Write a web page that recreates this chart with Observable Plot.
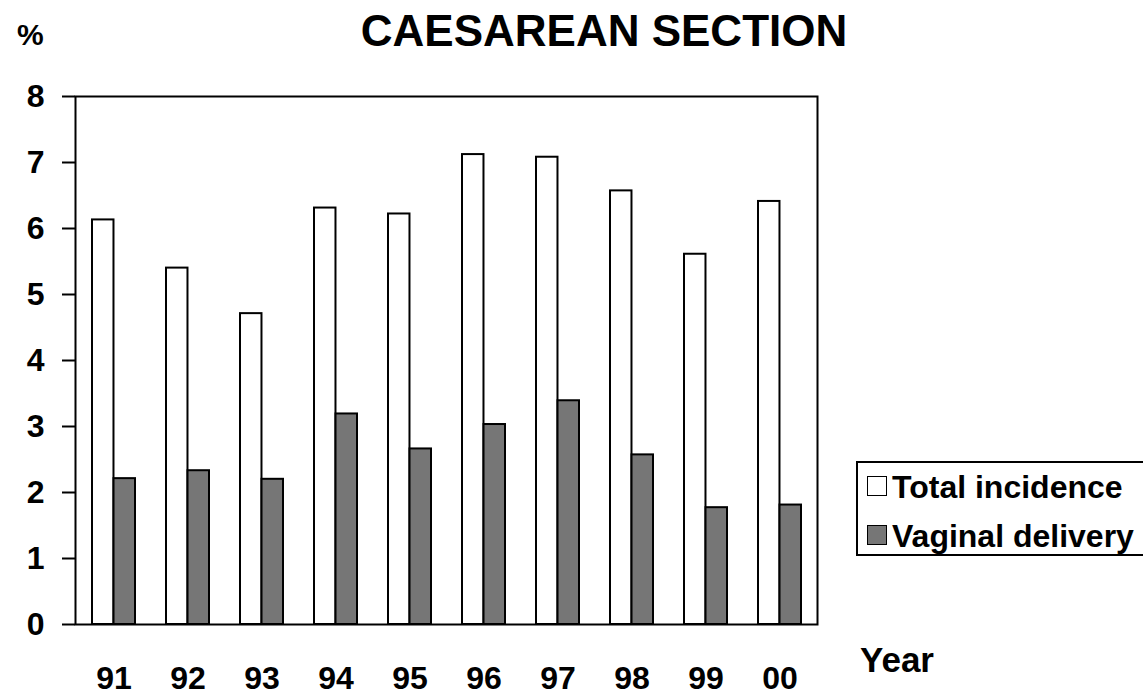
<!DOCTYPE html>
<html>
<head>
<meta charset="utf-8">
<script src="https://cdn.jsdelivr.net/npm/d3@7"></script>
<script src="https://cdn.jsdelivr.net/npm/@observablehq/plot@0.6"></script>
<style>
  html, body { margin: 0; padding: 0; background: #fff; overflow: hidden; }
  body { width: 1143px; height: 695px; position: relative; font-family: "Liberation Sans", Arial, Helvetica, sans-serif; font-weight: bold; color: #000; }
  #chart { position: absolute; left: 0; top: 0; }
  .abs { position: absolute; white-space: nowrap; }
  #title { left: 0; width: 1208px; text-align: center; top: 5px; font-size: 44px; line-height: 52px; }
  #ylab { left: 17px; top: 18px; font-size: 30px; line-height: 34px; }
  #xlab { left: 860px; top: 640px; font-size: 35px; line-height: 40px; }
  #legend { left: 856px; top: 461px; width: 320px; height: 95px; border: 2px solid #000; box-sizing: border-box; }
  .sw { position: absolute; width: 20px; height: 20px; box-sizing: border-box; border: 2px solid #000; }
  .lt { position: absolute; font-size: 32px; line-height: 36px; }
</style>
</head>
<body>
<div id="chart"></div>
<div id="title" class="abs">CAESAREAN SECTION</div>
<div id="ylab" class="abs">%</div>
<div id="xlab" class="abs">Year</div>
<div id="legend" class="abs"></div>
<script>
// ---- data ----
const years = ["91", "92", "93", "94", "95", "96", "97", "98", "99", "00"];
const totalIncidence = [6.13, 5.40, 4.71, 6.31, 6.22, 7.12, 7.08, 6.57, 5.61, 6.41];
const vaginalDelivery = [2.21, 2.33, 2.20, 3.19, 2.66, 3.03, 3.39, 2.57, 1.77, 1.81];
const seriesNames = ["Total incidence", "Vaginal delivery"];
const seriesColors = ["#ffffff", "#767676"];
const yTicks = [0, 1, 2, 3, 4, 5, 6, 7, 8];

const totalRows = years.map((y, i) => ({year: y, value: totalIncidence[i]}));
const vaginalRows = years.map((y, i) => ({year: y, value: vaginalDelivery[i]}));

const W = 1143, H = 695;
const mL = 75, mR = 326, mT = 96, mB = 71;
const pInner = 0.42, pOuter = 0.21;
const step = (W - mL - mR) / (years.length - pInner + 2 * pOuter);
const bw = step * (1 - pInner);

const chart = Plot.plot({
  width: W,
  height: H,
  marginLeft: mL,
  marginRight: mR,
  marginTop: mT,
  marginBottom: mB,
  style: {background: "#fff", color: "#000", fontFamily: "'Liberation Sans', Arial, sans-serif", fontWeight: "bold"},
  x: {type: "band", domain: years, paddingInner: pInner, paddingOuter: pOuter, axis: null},
  y: {domain: [0, 8], axis: null},
  marks: [
    Plot.barY(totalRows, {x: "year", y: "value", fill: seriesColors[0], stroke: "#000", strokeWidth: 2, insetRight: bw / 2}),
    Plot.barY(vaginalRows, {x: "year", y: "value", fill: seriesColors[1], stroke: "#000", strokeWidth: 2, insetLeft: bw / 2}),
    Plot.frame({stroke: "#000", strokeWidth: 2}),
    Plot.axisY({ticks: yTicks, tickSize: 13, tickPadding: 18, tickFormat: d => String(d), fontSize: 32, fontWeight: "bold", label: null, strokeWidth: 2}),
    Plot.axisX({tickSize: 0, tickPadding: 42, fontSize: 32, fontWeight: "bold", label: null})
  ]
});
document.getElementById("chart").appendChild(chart);

// legend built from the series arrays
const legend = document.getElementById("legend");
seriesNames.forEach((name, i) => {
  const sw = document.createElement("div");
  sw.className = "sw";
  sw.style.left = "9px";
  sw.style.top = (13 + i * 49) + "px";
  sw.style.background = seriesColors[i];
  sw.style.borderWidth = i === 0 ? "1.5px" : "1px";
  legend.appendChild(sw);
  const t = document.createElement("div");
  t.className = "lt";
  t.style.left = "34px";
  t.style.top = (6 + i * 49) + "px";
  t.textContent = name;
  legend.appendChild(t);
});
</script>
</body>
</html>
